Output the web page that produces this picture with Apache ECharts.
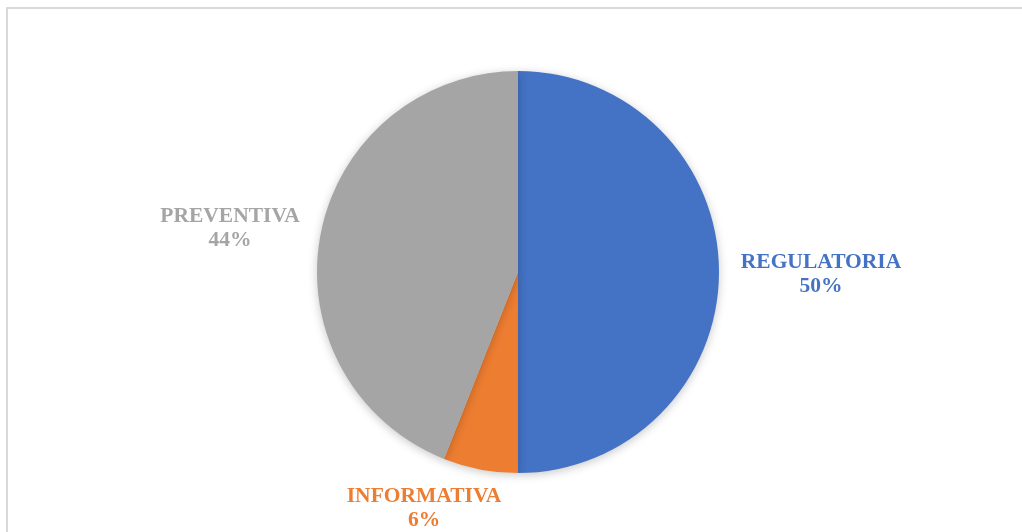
<!DOCTYPE html>
<html>
<head>
<meta charset="utf-8">
<script src="https://cdn.jsdelivr.net/npm/echarts@6/dist/echarts.min.js"></script>
<style>
  html, body { margin: 0; padding: 0; background: #ffffff; }
  #chart { width: 1022px; height: 532px; }
</style>
</head>
<body>
<div id="chart"></div>
<script>
// Categories and shares (percent)
const categories = ['REGULATORIA', 'INFORMATIVA', 'PREVENTIVA'];
const shares = [50, 6, 44];
const colors = ['#4472C4', '#ED7D31', '#A5A5A5'];

// Label anchor positions (text block centre, px)
const labelPos = {
  REGULATORIA: [821, 274],
  INFORMATIVA: [424, 508],
  PREVENTIVA: [230, 228]
};

const chart = echarts.init(document.getElementById('chart'), null, { renderer: 'canvas' });

chart.setOption({
  backgroundColor: '#ffffff',
  animation: false,
  graphic: [{
    type: 'rect',
    shape: { x: 7, y: 8, width: 1100, height: 600 },
    style: { fill: 'none', stroke: '#d9d9d9', lineWidth: 2 },
    z: -1
  }],
  series: [{
    type: 'pie',
    center: [518, 272],
    radius: [0, 201],
    startAngle: 90,
    clockwise: true,
    avoidLabelOverlap: false,
    data: categories.map((name, i) => ({
      name: name,
      value: shares[i],
      itemStyle: { color: colors[i] },
      label: { color: colors[i] }
    })),
    itemStyle: {
      borderWidth: 0,
      shadowBlur: 10,
      shadowOffsetY: 2,
      shadowColor: 'rgba(0,0,0,0.22)'
    },
    label: {
      show: true,
      position: 'outside',
      formatter: p => p.name + '\n' + p.value + '%',
      fontFamily: '"Liberation Serif", "Times New Roman", serif',
      fontWeight: 'bold',
      fontSize: 21.5,
      lineHeight: 24,
      align: 'center'
    },
    labelLine: { show: false },
    labelLayout: function (params) {
      const name = categories[params.dataIndex];
      const p = labelPos[name];
      return { x: p[0], y: p[1], align: 'center', verticalAlign: 'middle' };
    },
    emphasis: { disabled: true }
  }]
});
</script>
</body>
</html>
